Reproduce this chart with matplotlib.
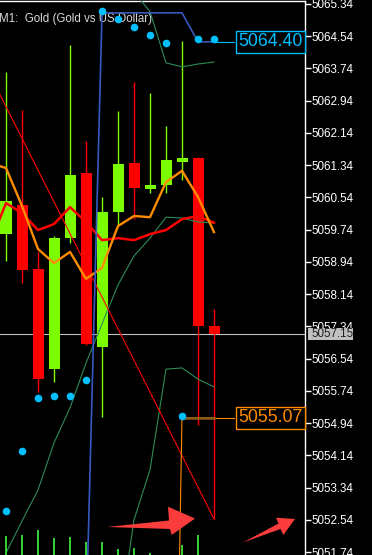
import matplotlib
matplotlib.use('Agg')
import matplotlib.pyplot as plt
import matplotlib.transforms as mtransforms
from matplotlib.patches import Polygon, Rectangle

# ---------------- data ----------------
idx = list(range(14))
opens  = [5059.64, 5060.35, 5058.77, 5056.29, 5059.54, 5061.15, 5056.84, 5060.19, 5061.39, 5060.76, 5060.85, 5061.42, 5061.52, 5057.35]
highs  = [5063.65, 5062.71, 5059.19, 5059.58, 5064.32, 5061.94, 5060.56, 5062.69, 5063.41, 5063.13, 5062.31, 5064.42, 5061.54, 5057.77]
lows   = [5058.96, 5058.42, 5055.71, 5055.97, 5059.41, 5056.89, 5055.09, 5059.83, 5060.00, 5060.66, 5060.66, 5060.97, 5054.89, 5052.56]
closes = [5060.46, 5058.74, 5056.04, 5059.54, 5061.10, 5056.91, 5060.19, 5061.37, 5060.78, 5060.85, 5061.47, 5061.52, 5057.36, 5057.15]

ma_idx = list(range(-1, 14))
fast_ma = [5061.39, 5061.27, 5060.33, 5059.26, 5058.91, 5059.19, 5058.52, 5058.79, 5059.83, 5060.08, 5060.05, 5060.92, 5061.20, 5060.55, 5059.68]
slow_ma = [5059.41, 5060.40, 5060.15, 5059.73, 5059.88, 5060.30, 5059.93, 5059.48, 5059.53, 5059.48, 5059.63, 5059.73, 5060.00, 5060.08, 5059.91]

band_mid = [5051.72, 5052.51, 5053.28, 5054.45, 5055.32, 5056.43, 5057.40, 5058.37, 5059.09, 5059.53, 5060.05, 5060.03, 5059.93, 5059.91]
band_up_idx = list(range(8, 14))
band_up = [5065.64, 5065.15, 5063.88, 5063.78, 5063.85, 5063.90]
band_lo_idx = list(range(7, 14))
band_lo = [5049.81, 5052.54, 5053.78, 5056.28, 5056.31, 5056.03, 5055.84]

blue_idx = list(range(5, 14))
blue_line = [5049.93, 5065.12, 5065.12, 5065.12, 5065.12, 5065.12, 5065.12, 5064.40, 5064.40]
step_idx = list(range(10, 14))
step_line = [5032.71, 5055.07, 5055.07, 5055.07]

sar = [5052.76, 5054.25, 5055.56, 5055.61, 5055.61, 5056.01, 5065.17, 5064.97, 5064.77, 5064.57, 5064.37, 5055.12, 5064.47, 5064.47]

zigzag_idx = [-1, 13]
zigzag = [5063.58, 5052.56]

volume = [19, 20, 25, 17, 18, 13, 13, 6, 7, 2, 0, 10, 20, 0]

yticks = [5065.34, 5064.54, 5063.74, 5062.94, 5062.14, 5061.34, 5060.54, 5059.74,
          5058.94, 5058.14, 5057.34, 5056.54, 5055.74, 5054.94, 5054.14, 5053.34,
          5052.54, 5051.74]
title = "M1:  Gold (Gold vs US Dollar)"

# ---------------- styles ----------------
W, H = 372, 555
BG = 'black'
UP = '#7cfc00'
DN = '#ff0000'
CYAN = '#00bfff'
ORANGE = '#ff8c00'
FONT = 'Liberation Sans'
PX_PER_UNIT = 40.3

fig = plt.figure(figsize=(W / 100, H / 100), dpi=100, facecolor=BG)
ax = fig.add_axes([0, 0, 305 / W, 554 / H], facecolor=BG)
ax.set_xlim(-0.375, 18.6875)
ax.set_ylim(5051.668, 5065.414)

for s in ['left', 'bottom']:
    ax.spines[s].set_visible(False)
for s in ['top', 'right']:
    ax.spines[s].set_color('white')
    ax.spines[s].set_linewidth(1.0)

ax.set_xticks([])
ax.yaxis.tick_right()
ax.set_yticks(yticks)
ax.set_yticklabels([f"{v:.2f}" for v in yticks], fontfamily=FONT, fontsize=8.4, color='white')
ax.tick_params(axis='y', direction='out', length=4, width=1, color='white', pad=1)

# title
ax.text(-0.44, 5065.414 - 21 / PX_PER_UNIT, title, fontfamily=FONT, fontsize=8.3,
        color='#d8d8d8', ha='left', va='baseline', zorder=1)

# candles
body_w = 11 / 16
for i, o, h, l, c in zip(idx, opens, highs, lows, closes):
    col = UP if c >= o else DN
    ax.vlines(i, l, h, color=col, lw=1.0, zorder=2)
    ax.bar(i, abs(c - o) if abs(c - o) > 0.02 else 0.02, bottom=min(o, c),
           width=body_w, color=col, edgecolor='none', linewidth=0, zorder=2)

# current price line
ax.axhline(closes[-1], color='#c0c0c0', lw=0.8, zorder=1.5)

# indicators
ax.plot(idx, band_mid, color='#2e8b57', lw=0.8, zorder=3)
ax.plot(band_up_idx, band_up, color='#2e8b57', lw=0.8, zorder=3)
ax.plot(band_lo_idx, band_lo, color='#2e8b57', lw=0.8, zorder=3)
ax.plot(zigzag_idx, zigzag, color='#ff0000', lw=0.8, zorder=3)
ax.plot(ma_idx, slow_ma, color='#ff0000', lw=1.8, zorder=4)
ax.plot(ma_idx, fast_ma, color=ORANGE, lw=1.7, zorder=4)
ax.plot(blue_idx, blue_line, color='#3658c0', lw=1.2, zorder=4)
ax.plot(step_idx, step_line, color=ORANGE, lw=0.8, zorder=4)
ax.plot(step_idx[1:], step_line[1:], color='#8b5a1a', lw=1.8, zorder=4.1)
ax.plot(idx, sar, 'o', color=CYAN, ms=5.5, mec='none', zorder=5)

# connectors to price labels
ax.plot([idx[-1], 14.25], [blue_line[-1]] * 2, color=CYAN, lw=0.8, zorder=4)
ax.plot([idx[-1], 14.25], [step_line[-1]] * 2, color=ORANGE, lw=0.8, zorder=4)

trans = mtransforms.blended_transform_factory(ax.transAxes, ax.transData)
ax.text(0.993, blue_line[-1], f"{blue_line[-1]:.2f}", transform=trans, ha='right', va='center',
        fontfamily=FONT, fontsize=12.8, color=CYAN, zorder=10,
        bbox=dict(boxstyle='square,pad=0.12', fc='black', ec=CYAN, lw=1.0))
ax.text(0.993, step_line[-1], f"{step_line[-1]:.2f}", transform=trans, ha='right', va='center',
        fontfamily=FONT, fontsize=12.8, color=ORANGE, zorder=10,
        bbox=dict(boxstyle='square,pad=0.12', fc='black', ec=ORANGE, lw=1.0))

# current price label (grey box on the axis)
box_h = 12 / PX_PER_UNIT
ax.add_patch(Rectangle((307.7 / 305, closes[-1] - box_h / 2), 45.5 / 305, box_h,
                       transform=trans, fc='#c0c0c0', ec='none', zorder=9, clip_on=False))
ax.text(311.5 / 305, closes[-1], f"{closes[-1]:.2f}", transform=trans, ha='left', va='center',
        fontfamily=FONT, fontsize=8.4, color='#202020', zorder=10, clip_on=False)

# volume sub-window (baseline below the visible area)
axv = fig.add_axes([0, 0, 305 / W, 50 / H])
axv.set_facecolor('none')
axv.set_xlim(-0.375, 18.6875)
axv.set_ylim(0, 50)
axv.axis('off')
axv.bar(idx, volume, width=2 / 16, color='#32cd32', zorder=2)

# red arrows (annotation decorations, figure pixel coords)
def px(pts):
    return [(x / W, 1 - y / H) for x, y in pts]

arrow1 = [(107, 527), (169, 520.5), (168, 506.7), (195, 518.5), (171.7, 535), (170, 529)]
arrow2 = [(243, 542.5), (278.5, 523.5), (276, 517.7), (295, 519), (283.3, 535), (280.5, 529)]
for a in (arrow1, arrow2):
    fig.patches.append(Polygon(px(a), closed=True, transform=fig.transFigure,
                               fc='#fa3c3c', ec='none', zorder=20))

fig.savefig('out.png', dpi=100, facecolor=BG)
